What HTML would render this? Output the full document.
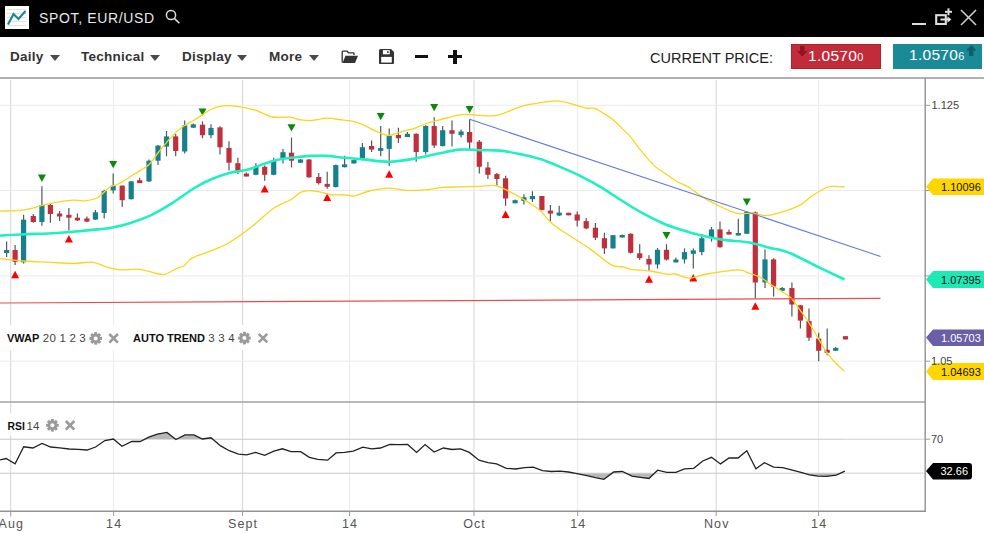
<!DOCTYPE html>
<html><head><meta charset="utf-8">
<style>
*{margin:0;padding:0;box-sizing:border-box}
html,body{width:984px;height:534px;overflow:hidden;background:#fff;font-family:"Liberation Sans",sans-serif}
.abs{position:absolute}
#hdr{position:absolute;left:0;top:0;width:984px;height:37px;background:#000}
#title{position:absolute;left:39px;top:10px;color:#e8e8e8;font-size:14px;letter-spacing:0.65px;white-space:nowrap}
.tb{position:absolute;top:49px;font-size:13.5px;letter-spacing:0.25px;font-weight:bold;color:#333;white-space:nowrap}
.tri{position:absolute;width:0;height:0;border-left:5px solid transparent;border-right:5px solid transparent;border-top:6px solid #4a4a4a}
#tbline{position:absolute;left:0;top:77px;width:984px;height:2px;background:#b0b0b0}
#cp{position:absolute;left:650px;top:50px;font-size:14.5px;color:#222;letter-spacing:0px;white-space:nowrap}
.pbox{position:absolute;top:44px;height:25px;color:#fff;font-size:15.5px;letter-spacing:0.3px;white-space:nowrap}
.ax{position:absolute;font-size:11px;color:#444;white-space:nowrap}
.xl{position:absolute;top:516.8px;width:60px;text-align:center;font-size:12.5px;letter-spacing:1.1px;text-indent:1.1px;color:#555;white-space:nowrap}
.lbl{position:absolute;height:17px;font-size:11.5px;line-height:17px;white-space:nowrap;padding-left:15px}
.ind{position:absolute;background:#fff;white-space:nowrap;font-size:12px;color:#333}
.ind b{color:#111}
.it{position:absolute;white-space:nowrap;font-size:11px;color:#333}
.it b{color:#111}
.it .n{font-size:11.5px;letter-spacing:0.2px;color:#444}
</style></head><body>
<div id="hdr">
  <svg class="abs" style="left:5px;top:6px" width="24" height="23" viewBox="0 0 24 23">
    <rect x="0" y="0" width="24" height="23" fill="#fff"/>
    <g stroke="#e2e2e2" stroke-width="1"><line x1="2" y1="3.5" x2="21" y2="3.5"/><line x1="2" y1="7.5" x2="21" y2="7.5"/><line x1="2" y1="11.5" x2="21" y2="11.5"/><line x1="2" y1="15.5" x2="21" y2="15.5"/><line x1="2" y1="19.5" x2="21" y2="19.5"/></g>
    <polyline points="3,18.5 8.5,8 13.5,13 20.5,5" fill="none" stroke="#1d8a93" stroke-width="2.2"/>
  </svg>
  <div id="title">SPOT, EUR/USD</div>
  <svg class="abs" style="left:165px;top:9.2px" width="17" height="16" viewBox="0 0 17 16">
    <circle cx="6" cy="6" r="4.6" fill="none" stroke="#ddd" stroke-width="1.5"/>
    <line x1="9.4" y1="9.4" x2="14.3" y2="14.3" stroke="#ddd" stroke-width="1.6"/>
  </svg>
  <div class="abs" style="left:912px;top:23px;width:14px;height:2px;background:#ddd"></div>
  <svg class="abs" style="left:934px;top:7.4px" width="20" height="18" viewBox="0 0 20 18">
    <rect x="2.2" y="8.2" width="9.6" height="8.8" fill="none" stroke="#ddd" stroke-width="2.1"/>
    <line x1="6.5" y1="12.5" x2="14.5" y2="12.5" stroke="#ddd" stroke-width="2"/>
    <polygon points="13.5,9.3 17.4,12.5 13.5,15.7" fill="#ddd"/>
    <line x1="14.5" y1="1.3" x2="14.5" y2="8.3" stroke="#ddd" stroke-width="2"/>
    <line x1="11" y1="4.8" x2="18" y2="4.8" stroke="#ddd" stroke-width="2"/>
  </svg>
  <svg class="abs" style="left:960px;top:9px" width="17" height="17" viewBox="0 0 17 17">
    <line x1="1" y1="1" x2="16" y2="16" stroke="#ccc" stroke-width="1.6"/>
    <line x1="16" y1="1" x2="1" y2="16" stroke="#ccc" stroke-width="1.6"/>
  </svg>
</div>

<div class="tb" style="left:10px">Daily</div><div class="tri" style="left:50px;top:55px"></div>
<div class="tb" style="left:81px">Technical</div><div class="tri" style="left:150px;top:55px"></div>
<div class="tb" style="left:182px">Display</div><div class="tri" style="left:237px;top:55px"></div>
<div class="tb" style="left:269px">More</div><div class="tri" style="left:309px;top:55px"></div>
<!-- folder -->
<svg class="abs" style="left:341px;top:49.7px" width="18" height="14" viewBox="0 0 18 14">
  <path d="M1.2,12.5 V2 Q1.2,1.2 2,1.2 H6 L7.5,2.8 H12.5 Q13,2.8 13,3.4 V5" fill="none" stroke="#333" stroke-width="1.3"/>
  <path d="M1.5,13 L4.5,5.8 H17 L14,13 Z" fill="#333"/>
</svg>
<!-- save -->
<svg class="abs" style="left:379px;top:48.6px" width="15" height="15.2" viewBox="0 0 15 15.2">
  <path d="M1.6,0 H12 L15,3 V13.6 Q15,15.2 13.4,15.2 H1.6 Q0,15.2 0,13.6 V1.6 Q0,0 1.6,0 Z" fill="#333"/>
  <rect x="3.9" y="1.1" width="6.9" height="4.2" fill="#fff"/>
  <rect x="8.1" y="2.2" width="1.5" height="1.8" fill="#333"/>
  <rect x="2.2" y="7.9" width="10.6" height="5.7" fill="#fff"/>
</svg>
<div class="abs" style="left:415px;top:55px;width:13px;height:3.4px;background:#111"></div>
<div class="abs" style="left:448px;top:55px;width:14px;height:3.4px;background:#111"></div>
<div class="abs" style="left:453.3px;top:50px;width:3.4px;height:13.5px;background:#111"></div>

<div id="cp">CURRENT PRICE:</div>
<div class="pbox" style="left:791px;width:90px;background:#c22b39;border:1px solid #b2202c">
  <svg class="abs" style="left:5px;top:1px" width="11" height="11" viewBox="0 0 11 11"><path d="M3,0 H7.5 V5 H10.5 L5.25,10.5 L0,5 H3 Z" fill="#8e1420"/></svg>
  <span class="abs" style="left:16px;top:2px">1.0570<span style="font-size:11px">0</span></span>
</div>
<div class="pbox" style="left:893px;width:89px;background:#1a8a96">
  <svg class="abs" style="left:73px;top:1px" width="11" height="11" viewBox="0 0 11 11"><path d="M3,11 H7.5 V5.5 H10.5 L5.25,0 L0,5.5 H3 Z" fill="#0f5f68"/></svg>
  <span class="abs" style="left:16px;top:2px">1.0570<span style="font-size:11px">6</span></span>
</div>
<div id="tbline"></div>

<svg class="abs" style="left:0;top:0" width="984" height="534" viewBox="0 0 984 534">
<g stroke="#ebebeb" stroke-width="1">
<line x1="10.7" y1="80" x2="10.7" y2="511" stroke="#d6d6d6"/>
<line x1="113.6" y1="80" x2="113.6" y2="511" />
<line x1="242.6" y1="80" x2="242.6" y2="511" stroke="#d6d6d6"/>
<line x1="349.5" y1="80" x2="349.5" y2="511" />
<line x1="474.0" y1="80" x2="474.0" y2="511" stroke="#d6d6d6"/>
<line x1="577.7" y1="80" x2="577.7" y2="511" />
<line x1="716.2" y1="80" x2="716.2" y2="511" stroke="#d6d6d6"/>
<line x1="818.6" y1="80" x2="818.6" y2="511" />
<line x1="0" y1="105.3" x2="925" y2="105.3"/>
<line x1="0" y1="190.5" x2="925" y2="190.5"/>
<line x1="0" y1="275.9" x2="925" y2="275.9"/>
<line x1="0" y1="361.2" x2="925" y2="361.2"/>
<line x1="0" y1="439.2" x2="925" y2="439.2" stroke="#cfcfcf"/>
<line x1="0" y1="473.2" x2="925" y2="473.2" stroke="#cfcfcf"/>
</g>
<line x1="6.6" y1="241.5" x2="6.6" y2="257.0" stroke="#4f5a5e" stroke-width="1.2"/>
<rect x="4.0" y="250.0" width="5.2" height="3.0" fill="#17808d"/>
<line x1="15.1" y1="245.0" x2="15.1" y2="265.0" stroke="#4f5a5e" stroke-width="1.2"/>
<rect x="12.5" y="250.0" width="5.2" height="11.8" fill="#c22e3b"/>
<line x1="23.6" y1="214.8" x2="23.6" y2="263.5" stroke="#4f5a5e" stroke-width="1.2"/>
<rect x="21.0" y="219.6" width="5.2" height="42.6" fill="#17808d"/>
<line x1="33.3" y1="214.0" x2="33.3" y2="222.8" stroke="#4f5a5e" stroke-width="1.2"/>
<rect x="30.7" y="216.0" width="5.2" height="6.0" fill="#c22e3b"/>
<line x1="41.9" y1="186.3" x2="41.9" y2="225.7" stroke="#4f5a5e" stroke-width="1.2"/>
<rect x="39.3" y="205.0" width="5.2" height="17.0" fill="#17808d"/>
<line x1="50.4" y1="203.3" x2="50.4" y2="222.8" stroke="#4f5a5e" stroke-width="1.2"/>
<rect x="47.8" y="205.0" width="5.2" height="9.0" fill="#c22e3b"/>
<line x1="59.6" y1="211.0" x2="59.6" y2="221.0" stroke="#4f5a5e" stroke-width="1.2"/>
<rect x="57.0" y="213.5" width="5.2" height="3.0" fill="#c22e3b"/>
<line x1="68.9" y1="208.0" x2="68.9" y2="230.6" stroke="#4f5a5e" stroke-width="1.2"/>
<rect x="66.3" y="214.8" width="5.2" height="2.9" fill="#c22e3b"/>
<line x1="77.4" y1="213.5" x2="77.4" y2="221.0" stroke="#4f5a5e" stroke-width="1.2"/>
<rect x="74.8" y="217.7" width="5.2" height="2.7" fill="#c22e3b"/>
<line x1="86.9" y1="216.5" x2="86.9" y2="222.0" stroke="#4f5a5e" stroke-width="1.2"/>
<rect x="84.3" y="218.4" width="5.2" height="3.2" fill="#c22e3b"/>
<line x1="95.4" y1="210.0" x2="95.4" y2="220.0" stroke="#4f5a5e" stroke-width="1.2"/>
<rect x="92.8" y="212.3" width="5.2" height="7.3" fill="#17808d"/>
<line x1="104.2" y1="189.7" x2="104.2" y2="218.4" stroke="#4f5a5e" stroke-width="1.2"/>
<rect x="101.6" y="191.0" width="5.2" height="22.0" fill="#17808d"/>
<line x1="113.2" y1="173.4" x2="113.2" y2="193.6" stroke="#4f5a5e" stroke-width="1.2"/>
<rect x="110.6" y="185.6" width="5.2" height="4.8" fill="#17808d"/>
<line x1="122.2" y1="185.6" x2="122.2" y2="207.0" stroke="#4f5a5e" stroke-width="1.2"/>
<rect x="119.6" y="185.6" width="5.2" height="14.6" fill="#c22e3b"/>
<line x1="131.2" y1="181.0" x2="131.2" y2="199.5" stroke="#4f5a5e" stroke-width="1.2"/>
<rect x="128.6" y="181.4" width="5.2" height="17.8" fill="#17808d"/>
<line x1="139.7" y1="177.8" x2="139.7" y2="183.1" stroke="#4f5a5e" stroke-width="1.2"/>
<rect x="137.1" y="180.2" width="5.2" height="2.9" fill="#c22e3b"/>
<line x1="149.0" y1="159.5" x2="149.0" y2="182.0" stroke="#4f5a5e" stroke-width="1.2"/>
<rect x="146.4" y="160.7" width="5.2" height="20.7" fill="#17808d"/>
<line x1="158.0" y1="144.9" x2="158.0" y2="165.1" stroke="#4f5a5e" stroke-width="1.2"/>
<rect x="155.4" y="145.6" width="5.2" height="15.1" fill="#17808d"/>
<line x1="166.5" y1="131.0" x2="166.5" y2="156.3" stroke="#4f5a5e" stroke-width="1.2"/>
<rect x="163.9" y="136.4" width="5.2" height="10.2" fill="#17808d"/>
<line x1="175.7" y1="134.0" x2="175.7" y2="156.3" stroke="#4f5a5e" stroke-width="1.2"/>
<rect x="173.1" y="136.4" width="5.2" height="14.6" fill="#c22e3b"/>
<line x1="184.7" y1="120.6" x2="184.7" y2="153.4" stroke="#4f5a5e" stroke-width="1.2"/>
<rect x="182.1" y="125.4" width="5.2" height="26.1" fill="#17808d"/>
<line x1="193.3" y1="123.5" x2="193.3" y2="127.7" stroke="#4f5a5e" stroke-width="1.2"/>
<rect x="190.7" y="124.3" width="5.2" height="3.4" fill="#17808d"/>
<line x1="202.5" y1="121.3" x2="202.5" y2="138.3" stroke="#4f5a5e" stroke-width="1.2"/>
<rect x="199.9" y="124.7" width="5.2" height="10.5" fill="#c22e3b"/>
<line x1="211.0" y1="124.2" x2="211.0" y2="138.3" stroke="#4f5a5e" stroke-width="1.2"/>
<rect x="208.4" y="127.9" width="5.2" height="7.3" fill="#17808d"/>
<line x1="220.0" y1="126.2" x2="220.0" y2="154.6" stroke="#4f5a5e" stroke-width="1.2"/>
<rect x="217.4" y="127.4" width="5.2" height="19.9" fill="#c22e3b"/>
<line x1="229.0" y1="141.3" x2="229.0" y2="170.5" stroke="#4f5a5e" stroke-width="1.2"/>
<rect x="226.4" y="148.0" width="5.2" height="14.7" fill="#c22e3b"/>
<line x1="237.9" y1="157.8" x2="237.9" y2="174.1" stroke="#4f5a5e" stroke-width="1.2"/>
<rect x="235.3" y="163.2" width="5.2" height="7.8" fill="#c22e3b"/>
<line x1="246.4" y1="172.5" x2="246.4" y2="176.5" stroke="#4f5a5e" stroke-width="1.2"/>
<rect x="243.8" y="173.6" width="5.2" height="2.9" fill="#c22e3b"/>
<line x1="255.9" y1="163.2" x2="255.9" y2="175.3" stroke="#4f5a5e" stroke-width="1.2"/>
<rect x="253.3" y="166.8" width="5.2" height="8.0" fill="#17808d"/>
<line x1="264.7" y1="165.6" x2="264.7" y2="180.7" stroke="#4f5a5e" stroke-width="1.2"/>
<rect x="262.1" y="166.8" width="5.2" height="8.0" fill="#c22e3b"/>
<line x1="273.7" y1="157.8" x2="273.7" y2="175.3" stroke="#4f5a5e" stroke-width="1.2"/>
<rect x="271.1" y="160.7" width="5.2" height="14.1" fill="#17808d"/>
<line x1="283.0" y1="149.0" x2="283.0" y2="163.6" stroke="#4f5a5e" stroke-width="1.2"/>
<rect x="280.4" y="152.2" width="5.2" height="6.6" fill="#17808d"/>
<line x1="291.5" y1="137.6" x2="291.5" y2="167.5" stroke="#4f5a5e" stroke-width="1.2"/>
<rect x="288.9" y="152.7" width="5.2" height="8.0" fill="#c22e3b"/>
<line x1="300.5" y1="159.0" x2="300.5" y2="163.0" stroke="#4f5a5e" stroke-width="1.2"/>
<rect x="297.9" y="159.5" width="5.2" height="3.2" fill="#17808d"/>
<line x1="309.0" y1="159.0" x2="309.0" y2="177.8" stroke="#4f5a5e" stroke-width="1.2"/>
<rect x="306.4" y="159.5" width="5.2" height="17.8" fill="#c22e3b"/>
<line x1="318.7" y1="172.9" x2="318.7" y2="184.6" stroke="#4f5a5e" stroke-width="1.2"/>
<rect x="316.1" y="177.0" width="5.2" height="6.1" fill="#c22e3b"/>
<line x1="327.2" y1="171.7" x2="327.2" y2="188.7" stroke="#4f5a5e" stroke-width="1.2"/>
<rect x="324.6" y="183.9" width="5.2" height="2.9" fill="#c22e3b"/>
<line x1="335.8" y1="164.4" x2="335.8" y2="187.5" stroke="#4f5a5e" stroke-width="1.2"/>
<rect x="333.2" y="165.1" width="5.2" height="21.9" fill="#17808d"/>
<line x1="344.6" y1="155.7" x2="344.6" y2="167.4" stroke="#4f5a5e" stroke-width="1.2"/>
<rect x="342.0" y="164.3" width="5.2" height="2.9" fill="#17808d"/>
<line x1="353.9" y1="159.5" x2="353.9" y2="163.5" stroke="#4f5a5e" stroke-width="1.2"/>
<rect x="351.3" y="160.1" width="5.2" height="3.4" fill="#17808d"/>
<line x1="362.4" y1="143.0" x2="362.4" y2="160.6" stroke="#4f5a5e" stroke-width="1.2"/>
<rect x="359.8" y="147.2" width="5.2" height="11.4" fill="#17808d"/>
<line x1="371.6" y1="140.6" x2="371.6" y2="152.0" stroke="#4f5a5e" stroke-width="1.2"/>
<rect x="369.0" y="146.0" width="5.2" height="3.6" fill="#c22e3b"/>
<line x1="380.7" y1="126.0" x2="380.7" y2="156.2" stroke="#4f5a5e" stroke-width="1.2"/>
<rect x="378.1" y="148.0" width="5.2" height="2.9" fill="#17808d"/>
<line x1="389.2" y1="128.5" x2="389.2" y2="166.0" stroke="#4f5a5e" stroke-width="1.2"/>
<rect x="386.6" y="135.8" width="5.2" height="13.1" fill="#17808d"/>
<line x1="398.4" y1="127.7" x2="398.4" y2="143.0" stroke="#4f5a5e" stroke-width="1.2"/>
<rect x="395.8" y="135.0" width="5.2" height="3.2" fill="#c22e3b"/>
<line x1="407.4" y1="131.9" x2="407.4" y2="137.0" stroke="#4f5a5e" stroke-width="1.2"/>
<rect x="404.8" y="133.8" width="5.2" height="3.2" fill="#17808d"/>
<line x1="416.2" y1="133.3" x2="416.2" y2="161.8" stroke="#4f5a5e" stroke-width="1.2"/>
<rect x="413.6" y="133.8" width="5.2" height="18.2" fill="#c22e3b"/>
<line x1="425.7" y1="125.3" x2="425.7" y2="154.5" stroke="#4f5a5e" stroke-width="1.2"/>
<rect x="423.1" y="126.0" width="5.2" height="26.0" fill="#17808d"/>
<line x1="434.2" y1="117.3" x2="434.2" y2="148.0" stroke="#4f5a5e" stroke-width="1.2"/>
<rect x="431.6" y="126.0" width="5.2" height="19.5" fill="#c22e3b"/>
<line x1="442.7" y1="126.0" x2="442.7" y2="146.5" stroke="#4f5a5e" stroke-width="1.2"/>
<rect x="440.1" y="130.2" width="5.2" height="15.8" fill="#17808d"/>
<line x1="452.0" y1="120.4" x2="452.0" y2="146.5" stroke="#4f5a5e" stroke-width="1.2"/>
<rect x="449.4" y="130.2" width="5.2" height="3.6" fill="#c22e3b"/>
<line x1="461.1" y1="129.5" x2="461.1" y2="137.6" stroke="#4f5a5e" stroke-width="1.2"/>
<rect x="458.5" y="131.5" width="5.2" height="3.7" fill="#17808d"/>
<line x1="469.6" y1="119.3" x2="469.6" y2="149.0" stroke="#4f5a5e" stroke-width="1.2"/>
<rect x="467.0" y="132.0" width="5.2" height="10.5" fill="#c22e3b"/>
<line x1="479.3" y1="140.0" x2="479.3" y2="173.4" stroke="#4f5a5e" stroke-width="1.2"/>
<rect x="476.7" y="141.7" width="5.2" height="25.1" fill="#c22e3b"/>
<line x1="487.9" y1="162.0" x2="487.9" y2="179.0" stroke="#4f5a5e" stroke-width="1.2"/>
<rect x="485.3" y="167.5" width="5.2" height="7.3" fill="#c22e3b"/>
<line x1="496.9" y1="172.9" x2="496.9" y2="185.6" stroke="#4f5a5e" stroke-width="1.2"/>
<rect x="494.3" y="174.1" width="5.2" height="4.9" fill="#c22e3b"/>
<line x1="505.6" y1="175.8" x2="505.6" y2="205.8" stroke="#4f5a5e" stroke-width="1.2"/>
<rect x="503.0" y="178.3" width="5.2" height="20.2" fill="#c22e3b"/>
<line x1="515.1" y1="199.5" x2="515.1" y2="203.3" stroke="#4f5a5e" stroke-width="1.2"/>
<rect x="512.5" y="200.2" width="5.2" height="3.1" fill="#17808d"/>
<line x1="523.9" y1="194.3" x2="523.9" y2="204.5" stroke="#4f5a5e" stroke-width="1.2"/>
<rect x="521.3" y="197.2" width="5.2" height="3.7" fill="#17808d"/>
<line x1="532.4" y1="191.2" x2="532.4" y2="202.1" stroke="#4f5a5e" stroke-width="1.2"/>
<rect x="529.8" y="196.0" width="5.2" height="3.2" fill="#17808d"/>
<line x1="541.9" y1="196.0" x2="541.9" y2="210.6" stroke="#4f5a5e" stroke-width="1.2"/>
<rect x="539.3" y="196.0" width="5.2" height="13.9" fill="#c22e3b"/>
<line x1="550.4" y1="205.0" x2="550.4" y2="221.6" stroke="#4f5a5e" stroke-width="1.2"/>
<rect x="547.8" y="210.6" width="5.2" height="3.0" fill="#c22e3b"/>
<line x1="559.2" y1="205.8" x2="559.2" y2="216.0" stroke="#4f5a5e" stroke-width="1.2"/>
<rect x="556.6" y="212.6" width="5.2" height="2.9" fill="#17808d"/>
<line x1="568.7" y1="212.8" x2="568.7" y2="215.2" stroke="#4f5a5e" stroke-width="1.2"/>
<rect x="566.1" y="212.8" width="5.2" height="2.5" fill="#c22e3b"/>
<line x1="577.2" y1="211.4" x2="577.2" y2="226.5" stroke="#4f5a5e" stroke-width="1.2"/>
<rect x="574.6" y="214.5" width="5.2" height="6.1" fill="#c22e3b"/>
<line x1="586.2" y1="218.0" x2="586.2" y2="229.2" stroke="#4f5a5e" stroke-width="1.2"/>
<rect x="583.6" y="221.1" width="5.2" height="7.3" fill="#c22e3b"/>
<line x1="595.4" y1="223.0" x2="595.4" y2="239.9" stroke="#4f5a5e" stroke-width="1.2"/>
<rect x="592.8" y="227.7" width="5.2" height="10.0" fill="#c22e3b"/>
<line x1="604.4" y1="232.8" x2="604.4" y2="254.0" stroke="#4f5a5e" stroke-width="1.2"/>
<rect x="601.8" y="238.2" width="5.2" height="10.2" fill="#c22e3b"/>
<line x1="613.0" y1="235.0" x2="613.0" y2="248.6" stroke="#4f5a5e" stroke-width="1.2"/>
<rect x="610.4" y="235.2" width="5.2" height="13.2" fill="#17808d"/>
<line x1="622.2" y1="234.5" x2="622.2" y2="237.4" stroke="#4f5a5e" stroke-width="1.2"/>
<rect x="619.6" y="235.0" width="5.2" height="2.5" fill="#17808d"/>
<line x1="630.7" y1="233.3" x2="630.7" y2="253.5" stroke="#4f5a5e" stroke-width="1.2"/>
<rect x="628.1" y="233.8" width="5.2" height="19.0" fill="#c22e3b"/>
<line x1="639.7" y1="244.2" x2="639.7" y2="260.1" stroke="#4f5a5e" stroke-width="1.2"/>
<rect x="637.1" y="253.3" width="5.2" height="4.8" fill="#c22e3b"/>
<line x1="649.0" y1="255.2" x2="649.0" y2="271.0" stroke="#4f5a5e" stroke-width="1.2"/>
<rect x="646.4" y="258.9" width="5.2" height="5.6" fill="#c22e3b"/>
<line x1="657.5" y1="247.9" x2="657.5" y2="268.6" stroke="#4f5a5e" stroke-width="1.2"/>
<rect x="654.9" y="249.8" width="5.2" height="14.7" fill="#17808d"/>
<line x1="666.5" y1="244.2" x2="666.5" y2="260.6" stroke="#4f5a5e" stroke-width="1.2"/>
<rect x="663.9" y="249.8" width="5.2" height="9.8" fill="#c22e3b"/>
<line x1="675.9" y1="257.5" x2="675.9" y2="262.5" stroke="#4f5a5e" stroke-width="1.2"/>
<rect x="673.3" y="259.5" width="5.2" height="2.9" fill="#17808d"/>
<line x1="684.5" y1="248.4" x2="684.5" y2="263.5" stroke="#4f5a5e" stroke-width="1.2"/>
<rect x="681.9" y="252.1" width="5.2" height="7.3" fill="#17808d"/>
<line x1="693.3" y1="248.4" x2="693.3" y2="268.4" stroke="#4f5a5e" stroke-width="1.2"/>
<rect x="690.7" y="250.4" width="5.2" height="3.4" fill="#17808d"/>
<line x1="701.8" y1="233.8" x2="701.8" y2="255.2" stroke="#4f5a5e" stroke-width="1.2"/>
<rect x="699.2" y="238.2" width="5.2" height="13.9" fill="#17808d"/>
<line x1="711.5" y1="227.0" x2="711.5" y2="241.6" stroke="#4f5a5e" stroke-width="1.2"/>
<rect x="708.9" y="229.4" width="5.2" height="8.1" fill="#17808d"/>
<line x1="720.0" y1="221.6" x2="720.0" y2="247.7" stroke="#4f5a5e" stroke-width="1.2"/>
<rect x="717.4" y="229.4" width="5.2" height="17.8" fill="#c22e3b"/>
<line x1="729.0" y1="229.5" x2="729.0" y2="234.5" stroke="#4f5a5e" stroke-width="1.2"/>
<rect x="726.4" y="231.9" width="5.2" height="2.6" fill="#c22e3b"/>
<line x1="738.3" y1="218.7" x2="738.3" y2="235.5" stroke="#4f5a5e" stroke-width="1.2"/>
<rect x="735.7" y="233.0" width="5.2" height="2.5" fill="#17808d"/>
<line x1="746.8" y1="211.4" x2="746.8" y2="233.8" stroke="#4f5a5e" stroke-width="1.2"/>
<rect x="744.2" y="211.9" width="5.2" height="21.9" fill="#17808d"/>
<line x1="755.3" y1="211.4" x2="755.3" y2="298.3" stroke="#4f5a5e" stroke-width="1.2"/>
<rect x="752.7" y="212.4" width="5.2" height="70.1" fill="#c22e3b"/>
<line x1="765.0" y1="249.6" x2="765.0" y2="287.9" stroke="#4f5a5e" stroke-width="1.2"/>
<rect x="762.4" y="259.4" width="5.2" height="23.1" fill="#17808d"/>
<line x1="773.6" y1="258.2" x2="773.6" y2="296.5" stroke="#4f5a5e" stroke-width="1.2"/>
<rect x="771.0" y="259.4" width="5.2" height="27.2" fill="#c22e3b"/>
<line x1="782.2" y1="287.0" x2="782.2" y2="290.8" stroke="#4f5a5e" stroke-width="1.2"/>
<rect x="779.6" y="288.0" width="5.2" height="2.8" fill="#17808d"/>
<line x1="791.9" y1="282.6" x2="791.9" y2="316.4" stroke="#4f5a5e" stroke-width="1.2"/>
<rect x="789.3" y="288.1" width="5.2" height="16.4" fill="#c22e3b"/>
<line x1="800.4" y1="305.0" x2="800.4" y2="328.4" stroke="#4f5a5e" stroke-width="1.2"/>
<rect x="797.8" y="305.3" width="5.2" height="15.3" fill="#c22e3b"/>
<line x1="809.0" y1="308.5" x2="809.0" y2="341.1" stroke="#4f5a5e" stroke-width="1.2"/>
<rect x="806.4" y="321.1" width="5.2" height="16.6" fill="#c22e3b"/>
<line x1="818.7" y1="332.8" x2="818.7" y2="361.3" stroke="#4f5a5e" stroke-width="1.2"/>
<rect x="816.1" y="338.6" width="5.2" height="12.2" fill="#c22e3b"/>
<line x1="827.2" y1="328.4" x2="827.2" y2="355.2" stroke="#4f5a5e" stroke-width="1.2"/>
<rect x="824.6" y="349.8" width="5.2" height="3.0" fill="#c22e3b"/>
<line x1="835.7" y1="347.0" x2="835.7" y2="350.8" stroke="#4f5a5e" stroke-width="1.2"/>
<rect x="833.1" y="347.9" width="5.2" height="2.9" fill="#17808d"/>
<line x1="845.5" y1="336.2" x2="845.5" y2="339.4" stroke="#4f5a5e" stroke-width="1.2"/>
<rect x="842.9" y="336.2" width="5.2" height="3.2" fill="#c22e3b"/>
<polygon points="37.9,174.6 45.9,174.6 41.9,181.9" fill="#0a8a0a"/>
<polygon points="109.2,161.0 117.2,161.0 113.2,168.3" fill="#0a8a0a"/>
<polygon points="198.5,108.4 206.5,108.4 202.5,115.7" fill="#0a8a0a"/>
<polygon points="287.5,124.2 295.5,124.2 291.5,131.5" fill="#0a8a0a"/>
<polygon points="376.7,113.0 384.7,113.0 380.7,120.3" fill="#0a8a0a"/>
<polygon points="430.2,104.0 438.2,104.0 434.2,111.3" fill="#0a8a0a"/>
<polygon points="465.6,106.0 473.6,106.0 469.6,113.3" fill="#0a8a0a"/>
<polygon points="662.5,232.0 670.5,232.0 666.5,239.3" fill="#0a8a0a"/>
<polygon points="742.8,198.5 750.8,198.5 746.8,205.8" fill="#0a8a0a"/>
<polygon points="11.1,278.3 19.1,278.3 15.1,270.8" fill="#ff0000"/>
<polygon points="64.9,242.5 72.9,242.5 68.9,235.0" fill="#ff0000"/>
<polygon points="260.7,192.5 268.7,192.5 264.7,185.0" fill="#ff0000"/>
<polygon points="323.2,201.1 331.2,201.1 327.2,193.6" fill="#ff0000"/>
<polygon points="385.2,177.8 393.2,177.8 389.2,170.3" fill="#ff0000"/>
<polygon points="501.6,218.1 509.6,218.1 505.6,210.6" fill="#ff0000"/>
<polygon points="645.0,282.7 653.0,282.7 649.0,275.2" fill="#ff0000"/>
<polygon points="689.3,281.5 697.3,281.5 693.3,274.0" fill="#ff0000"/>
<polygon points="751.3,309.8 759.3,309.8 755.3,302.3" fill="#ff0000"/>
<path fill="none" stroke="#fad51a" stroke-width="1.3" d="M0.0,211.1 C4.0,210.9 16.2,211.1 24.3,209.9 C32.4,208.7 40.6,205.4 48.7,203.8 C56.8,202.2 66.9,200.7 73.0,200.2 C79.1,199.7 81.1,201.3 85.2,200.9 C89.3,200.5 93.8,199.6 97.4,197.7 C101.1,195.8 105.0,191.0 107.1,189.2 C109.2,187.4 107.8,188.0 110.0,187.0 C112.2,186.0 116.0,185.3 120.0,183.1 C124.0,180.9 129.5,177.1 134.3,174.0 C139.1,170.9 144.9,168.1 149.0,164.4 C153.1,160.7 155.0,156.5 158.7,152.0 C162.3,147.5 166.8,141.8 170.9,137.6 C175.0,133.4 179.1,129.5 183.0,126.6 C186.9,123.7 191.1,122.0 194.4,120.0 C197.7,118.0 200.1,116.3 202.9,114.5 C205.8,112.7 208.8,110.3 211.5,109.0 C214.2,107.7 216.0,107.1 218.8,106.6 C221.6,106.0 225.2,105.7 228.5,105.7 C231.8,105.7 233.8,105.8 238.3,106.6 C242.8,107.3 249.7,108.5 255.4,110.2 C261.1,111.9 266.6,115.8 272.4,117.0 C278.2,118.2 285.7,116.8 290.0,117.2 C294.3,117.6 294.6,118.7 298.0,119.3 C301.4,119.9 305.3,120.8 310.2,120.6 C315.1,120.4 322.2,118.2 327.2,118.1 C332.2,117.9 335.8,119.2 340.0,119.7 C344.2,120.2 348.1,120.3 352.2,121.2 C356.2,122.1 360.2,123.6 364.3,125.3 C368.4,127.0 372.4,129.7 376.5,131.4 C380.6,133.1 384.6,135.4 388.7,135.5 C392.8,135.6 396.8,133.0 400.9,131.9 C404.9,130.8 408.9,130.2 413.0,128.9 C417.1,127.6 421.1,125.4 425.2,124.0 C429.3,122.6 433.3,121.5 437.4,120.4 C441.4,119.3 445.9,118.2 449.5,117.3 C453.1,116.4 455.9,115.3 459.3,114.8 C462.7,114.3 463.6,114.3 469.6,114.5 C475.6,114.7 487.5,116.7 495.2,115.7 C502.9,114.7 510.4,110.2 515.9,108.4 C521.4,106.6 521.9,105.9 528.0,104.7 C534.1,103.5 547.1,101.7 552.4,101.1 C557.7,100.5 557.4,101.0 560.0,101.3 C562.6,101.6 565.5,102.1 568.2,102.8 C571.0,103.5 573.6,104.5 576.5,105.4 C579.4,106.3 582.6,107.6 585.7,108.1 C588.8,108.6 592.1,107.7 595.0,108.5 C597.9,109.3 600.3,111.3 603.2,113.1 C606.1,114.9 609.4,116.7 612.5,119.2 C615.6,121.7 618.7,125.1 621.8,128.1 C624.9,131.1 628.1,134.0 631.0,137.4 C633.9,140.8 636.4,145.0 639.3,148.7 C642.2,152.4 645.6,156.4 648.5,159.6 C651.4,162.8 653.7,165.3 656.8,167.8 C659.9,170.3 663.9,172.6 667.1,174.8 C670.4,177.0 672.5,179.0 676.3,181.2 C680.1,183.4 685.8,185.4 689.7,187.8 C693.7,190.2 696.0,192.8 700.0,195.4 C704.0,198.0 708.0,200.5 714.0,203.4 C720.0,206.3 729.4,211.5 735.9,213.1 C742.4,214.7 748.0,212.7 752.9,213.1 C757.8,213.5 760.5,215.7 765.0,215.6 C769.5,215.5 774.2,214.3 780.0,212.6 C785.8,210.9 794.2,208.0 799.5,205.3 C804.8,202.6 807.1,199.3 811.6,196.3 C816.1,193.3 822.2,189.2 826.3,187.5 C830.4,185.8 833.0,186.4 836.0,186.3 C839.0,186.2 843.1,186.9 844.5,187.0"/>
<path fill="none" stroke="#fad51a" stroke-width="1.3" d="M0.0,258.6 C4.0,259.0 16.2,260.4 24.3,261.0 C32.4,261.6 40.6,261.8 48.7,262.2 C56.8,262.6 65.7,263.5 73.0,263.5 C80.3,263.5 86.8,261.6 92.5,262.2 C98.2,262.8 102.5,265.8 107.1,267.1 C111.7,268.4 115.0,269.5 120.3,269.9 C125.6,270.3 132.3,268.6 138.8,269.3 C145.3,270.0 154.9,273.2 159.4,274.0 C163.9,274.8 162.5,275.0 165.6,274.0 C168.7,273.0 174.9,269.2 178.0,267.8 C181.1,266.4 181.7,267.5 184.1,265.8 C186.5,264.1 187.6,260.5 192.4,257.9 C197.2,255.3 206.8,252.7 213.0,250.1 C219.2,247.5 223.2,246.2 229.4,242.5 C235.6,238.8 242.6,233.8 250.0,228.1 C257.4,222.4 266.9,212.9 273.7,208.2 C280.5,203.5 286.2,202.3 290.7,199.7 C295.2,197.1 297.2,193.9 300.5,192.4 C303.8,190.9 306.6,190.7 310.2,190.7 C313.8,190.7 318.8,191.7 322.4,192.4 C326.0,193.1 328.5,194.4 332.1,194.8 C335.8,195.2 340.6,194.6 344.3,194.8 C348.1,195.0 350.5,196.5 354.6,195.9 C358.8,195.3 363.5,192.3 369.2,191.0 C374.9,189.7 382.6,188.2 388.7,188.1 C394.8,188.0 399.6,190.0 405.7,190.3 C411.8,190.6 419.1,190.3 425.2,189.8 C431.3,189.3 436.5,187.9 442.2,187.4 C447.9,186.9 453.1,187.1 459.3,186.9 C465.5,186.7 473.3,186.5 479.3,186.3 C485.3,186.1 490.3,184.8 495.2,185.6 C500.1,186.4 503.1,188.4 508.6,191.2 C514.1,193.9 522.7,198.9 528.0,202.1 C533.3,205.3 536.3,207.1 540.2,210.6 C544.1,214.1 547.1,219.1 551.2,222.8 C555.3,226.5 558.6,228.5 565.0,232.8 C571.4,237.1 581.6,243.1 589.3,248.4 C597.0,253.8 605.6,261.8 611.3,264.9 C617.0,268.0 620.2,266.2 623.4,266.9 C626.6,267.6 626.2,268.6 630.7,269.3 C635.2,270.0 644.1,270.2 650.2,271.0 C656.3,271.8 663.1,273.7 667.2,274.2 C671.3,274.7 671.3,273.4 675.0,274.0 C678.7,274.6 684.3,278.1 689.6,278.1 C694.9,278.1 698.5,275.4 706.6,274.0 C714.7,272.6 731.4,270.0 738.3,269.8 C745.2,269.6 744.4,271.6 748.0,272.8 C751.6,274.0 755.9,275.1 760.0,277.2 C764.1,279.3 769.0,283.3 772.4,285.5 C775.8,287.7 777.5,288.6 780.6,290.6 C783.7,292.7 788.1,295.2 790.9,297.8 C793.6,300.4 794.7,302.7 797.1,306.0 C799.5,309.3 802.3,312.8 805.4,317.4 C808.5,322.0 812.3,328.2 815.7,333.9 C819.1,339.6 822.6,346.4 826.0,351.4 C829.4,356.4 833.2,360.5 836.3,363.8 C839.4,367.1 843.1,369.8 844.5,371.0"/>
<path fill="none" stroke="#1ff0c2" stroke-width="2.6" d="M0.0,235.5 C4.0,235.3 16.2,234.5 24.3,234.2 C32.4,233.9 40.6,233.9 48.7,233.5 C56.8,233.1 64.9,232.5 73.0,231.8 C81.1,231.1 91.2,230.0 97.4,229.4 C103.6,228.8 104.5,229.2 110.0,228.1 C115.5,227.0 123.7,225.1 130.6,222.9 C137.5,220.7 144.3,218.3 151.2,215.1 C158.1,211.8 164.5,208.0 171.8,203.4 C179.1,198.8 188.5,191.6 195.2,187.5 C201.9,183.4 206.3,181.4 212.0,179.0 C217.7,176.6 223.1,174.6 229.3,173.0 C235.5,171.4 241.9,171.2 249.3,169.2 C256.7,167.1 265.6,162.7 273.7,160.7 C281.8,158.7 291.9,157.8 298.0,157.0 C304.1,156.2 305.3,156.1 310.2,155.9 C315.1,155.7 321.5,155.6 327.2,155.9 C332.9,156.2 338.1,157.2 344.3,157.8 C350.5,158.4 356.9,158.7 364.3,159.4 C371.7,160.1 380.6,161.9 388.7,161.8 C396.8,161.7 404.9,160.2 413.0,158.9 C421.1,157.6 429.7,155.4 437.4,153.8 C445.1,152.2 452.2,150.2 459.3,149.6 C466.4,149.0 473.2,150.0 480.0,150.2 C486.8,150.4 493.5,149.9 500.3,150.6 C507.1,151.3 513.8,152.8 520.6,154.2 C527.4,155.6 534.2,157.1 541.0,159.3 C547.8,161.5 554.5,164.5 561.3,167.4 C568.1,170.3 574.8,173.2 581.6,176.6 C588.4,180.0 595.2,183.7 602.0,187.8 C608.8,191.9 615.5,196.8 622.3,201.0 C629.1,205.2 635.8,209.5 642.6,213.2 C649.4,216.9 656.7,220.6 662.9,223.3 C669.1,226.0 673.9,227.5 680.0,229.4 C686.1,231.3 692.0,233.2 699.3,235.0 C706.6,236.8 715.6,238.7 723.7,239.9 C731.8,241.1 739.9,240.9 748.0,242.3 C756.1,243.7 767.1,247.2 772.4,248.4 C777.7,249.7 776.7,248.9 780.0,249.8 C783.3,250.7 785.7,251.1 792.2,254.0 C798.7,256.9 810.3,263.1 819.0,267.4 C827.7,271.6 840.2,277.5 844.5,279.5"/>
<line x1="0" y1="303" x2="880.5" y2="298.3" stroke="#ef4a4a" stroke-width="1.2"/>
<line x1="469.6" y1="119.3" x2="880.5" y2="256.4" stroke="#5a78d8" stroke-width="1.1"/>
<defs><clipPath id="c70"><rect x="0" y="400" width="925" height="39.2"/></clipPath><clipPath id="c30"><rect x="0" y="473.2" width="925" height="40"/></clipPath></defs>
<polygon clip-path="url(#c70)" fill="#b8b8b8" points="0.0,459.8 6.1,458.5 15.1,463.9 23.7,446.8 32.9,448.0 42.0,443.4 50.7,447.0 59.8,447.8 69.0,449.0 78.0,449.3 87.1,450.0 95.6,447.0 104.9,440.5 113.4,439.0 122.0,446.3 131.7,441.5 140.2,441.5 148.8,437.1 157.3,434.1 167.0,432.4 176.0,439.5 184.9,434.9 193.9,434.9 202.4,439.0 211.0,437.8 220.7,445.9 229.3,450.7 238.5,454.1 246.6,454.9 255.6,452.4 264.6,455.4 273.9,451.2 282.4,448.8 291.0,451.7 300.7,451.7 309.3,457.3 317.8,459.3 327.6,460.2 336.1,452.9 344.6,452.4 353.2,451.2 362.9,447.1 371.5,448.8 380.5,448.0 389.8,444.4 398.3,444.6 407.6,444.4 416.6,452.4 425.1,444.6 434.1,452.0 443.4,448.0 452.0,449.5 460.5,448.8 469.3,452.4 479.0,460.2 488.0,462.7 496.6,463.9 506.3,468.3 515.6,469.0 524.6,467.6 533.2,467.1 542.4,470.7 551.5,471.5 560.0,471.2 568.5,472.0 577.0,473.7 586.8,475.6 595.4,477.6 603.9,479.3 613.7,472.0 622.2,471.5 632.0,476.1 640.5,477.3 649.0,478.5 657.6,470.2 666.8,472.4 675.9,472.4 684.4,468.8 693.7,468.3 702.7,461.0 711.5,457.3 720.5,463.9 729.0,458.0 738.0,458.0 746.8,450.7 755.9,468.8 764.4,462.7 773.7,467.1 782.7,467.6 792.4,470.2 801.0,472.4 809.5,474.9 818.0,476.1 826.6,476.3 836.3,475.1 844.9,471.2 844.9,439.2 0,439.2"/>
<polygon clip-path="url(#c30)" fill="#b8b8b8" points="0.0,459.8 6.1,458.5 15.1,463.9 23.7,446.8 32.9,448.0 42.0,443.4 50.7,447.0 59.8,447.8 69.0,449.0 78.0,449.3 87.1,450.0 95.6,447.0 104.9,440.5 113.4,439.0 122.0,446.3 131.7,441.5 140.2,441.5 148.8,437.1 157.3,434.1 167.0,432.4 176.0,439.5 184.9,434.9 193.9,434.9 202.4,439.0 211.0,437.8 220.7,445.9 229.3,450.7 238.5,454.1 246.6,454.9 255.6,452.4 264.6,455.4 273.9,451.2 282.4,448.8 291.0,451.7 300.7,451.7 309.3,457.3 317.8,459.3 327.6,460.2 336.1,452.9 344.6,452.4 353.2,451.2 362.9,447.1 371.5,448.8 380.5,448.0 389.8,444.4 398.3,444.6 407.6,444.4 416.6,452.4 425.1,444.6 434.1,452.0 443.4,448.0 452.0,449.5 460.5,448.8 469.3,452.4 479.0,460.2 488.0,462.7 496.6,463.9 506.3,468.3 515.6,469.0 524.6,467.6 533.2,467.1 542.4,470.7 551.5,471.5 560.0,471.2 568.5,472.0 577.0,473.7 586.8,475.6 595.4,477.6 603.9,479.3 613.7,472.0 622.2,471.5 632.0,476.1 640.5,477.3 649.0,478.5 657.6,470.2 666.8,472.4 675.9,472.4 684.4,468.8 693.7,468.3 702.7,461.0 711.5,457.3 720.5,463.9 729.0,458.0 738.0,458.0 746.8,450.7 755.9,468.8 764.4,462.7 773.7,467.1 782.7,467.6 792.4,470.2 801.0,472.4 809.5,474.9 818.0,476.1 826.6,476.3 836.3,475.1 844.9,471.2 844.9,473.2 0,473.2"/>
<polyline fill="none" stroke="#222" stroke-width="1.3" points="0.0,459.8 6.1,458.5 15.1,463.9 23.7,446.8 32.9,448.0 42.0,443.4 50.7,447.0 59.8,447.8 69.0,449.0 78.0,449.3 87.1,450.0 95.6,447.0 104.9,440.5 113.4,439.0 122.0,446.3 131.7,441.5 140.2,441.5 148.8,437.1 157.3,434.1 167.0,432.4 176.0,439.5 184.9,434.9 193.9,434.9 202.4,439.0 211.0,437.8 220.7,445.9 229.3,450.7 238.5,454.1 246.6,454.9 255.6,452.4 264.6,455.4 273.9,451.2 282.4,448.8 291.0,451.7 300.7,451.7 309.3,457.3 317.8,459.3 327.6,460.2 336.1,452.9 344.6,452.4 353.2,451.2 362.9,447.1 371.5,448.8 380.5,448.0 389.8,444.4 398.3,444.6 407.6,444.4 416.6,452.4 425.1,444.6 434.1,452.0 443.4,448.0 452.0,449.5 460.5,448.8 469.3,452.4 479.0,460.2 488.0,462.7 496.6,463.9 506.3,468.3 515.6,469.0 524.6,467.6 533.2,467.1 542.4,470.7 551.5,471.5 560.0,471.2 568.5,472.0 577.0,473.7 586.8,475.6 595.4,477.6 603.9,479.3 613.7,472.0 622.2,471.5 632.0,476.1 640.5,477.3 649.0,478.5 657.6,470.2 666.8,472.4 675.9,472.4 684.4,468.8 693.7,468.3 702.7,461.0 711.5,457.3 720.5,463.9 729.0,458.0 738.0,458.0 746.8,450.7 755.9,468.8 764.4,462.7 773.7,467.1 782.7,467.6 792.4,470.2 801.0,472.4 809.5,474.9 818.0,476.1 826.6,476.3 836.3,475.1 844.9,471.2"/>
<!-- frame -->
<line x1="925.2" y1="78" x2="925.2" y2="511.5" stroke="#999" stroke-width="1.5"/>
<line x1="0" y1="402" x2="925" y2="402" stroke="#a0a0a0" stroke-width="1.5"/>
<line x1="0" y1="511.2" x2="925.9" y2="511.2" stroke="#929292" stroke-width="1.5"/>
<g stroke="#999" stroke-width="1">
<line x1="925" y1="105.3" x2="930" y2="105.3"/><line x1="925" y1="190.5" x2="930" y2="190.5"/><line x1="925" y1="275.9" x2="930" y2="275.9"/><line x1="925" y1="361.2" x2="930" y2="361.2"/>
<line x1="925" y1="439.2" x2="930" y2="439.2"/>
<line x1="10.7" y1="511" x2="10.7" y2="516.5"/><line x1="113.6" y1="511" x2="113.6" y2="516"/><line x1="242.6" y1="511" x2="242.6" y2="516"/><line x1="349.5" y1="511" x2="349.5" y2="516"/><line x1="474" y1="511" x2="474" y2="516"/><line x1="577.7" y1="511" x2="577.7" y2="516"/><line x1="716.2" y1="511" x2="716.2" y2="516"/><line x1="818.6" y1="511" x2="818.6" y2="516"/>
</g>
<!-- price labels -->
<polygon points="926,186.7 933,178.5 984,178.5 984,195 933,195" fill="#ffd600"/>
<polygon points="926,279.4 933,271 984,271 984,288 933,288" fill="#1de9b6"/>
<polygon points="926,337.5 933,329.5 984,329.5 984,346 933,346" fill="#6a5ea6"/>
<polygon points="926,371.5 933,363 984,363 984,380 933,380" fill="#ffd600"/>
<path d="M926,471 L933,463 H969 Q972,463 972,466 V476.5 Q972,479.5 969,479.5 H933 Z" fill="#000"/>
</svg>

<div class="ax" style="left:931.5px;top:98.7px">1.125</div>
<div class="ax" style="left:931px;top:354.5px">1.05</div>
<div class="ax" style="left:931px;top:432.7px">70</div>
<div class="ax" style="left:941px;top:181px;color:#111">1.10096</div>
<div class="ax" style="left:941px;top:274px;color:#111">1.07395</div>
<div class="ax" style="left:941px;top:332px;color:#fff">1.05703</div>
<div class="ax" style="left:941px;top:366px;color:#111">1.04693</div>
<div class="ax" style="left:940.5px;top:465px;color:#fff">32.66</div>

<div class="xl" style="left:-19.3px">Aug</div>
<div class="xl" style="left:83.6px">14</div>
<div class="xl" style="left:212.6px">Sept</div>
<div class="xl" style="left:319.5px">14</div>
<div class="xl" style="left:444.0px">Oct</div>
<div class="xl" style="left:547.7px">14</div>
<div class="xl" style="left:686.2px">Nov</div>
<div class="xl" style="left:788.6px">14</div>

<div class="ind" style="left:4px;top:325px;width:121px;height:25px"></div>
<div class="ind" style="left:129px;top:325px;width:143px;height:25px"></div>
<div class="ind" style="left:4px;top:413px;width:76px;height:22px"></div>
<div class="it" style="left:7px;top:332px"><b>VWAP</b><span class="n"> 20 1 2 3</span></div>
<div class="it" style="left:133px;top:332px"><b>AUTO TREND</b><span class="n"> 3 3 4</span></div>
<div class="it" style="left:7.5px;top:419.5px"><b style="font-size:10.4px">RSI</b><span class="n" style="letter-spacing:0;margin-left:-1.5px"> 14</span></div>
<svg class="abs" style="left:0;top:0" width="300" height="450" viewBox="0 0 300 450">
<g transform="translate(95.7,338.4)"><g fill="#9a9a9a"><circle cx="0" cy="0" r="4.7"/><rect x="-1.5" y="-6.3" width="3" height="3" transform="rotate(0)"/><rect x="-1.5" y="-6.3" width="3" height="3" transform="rotate(45)"/><rect x="-1.5" y="-6.3" width="3" height="3" transform="rotate(90)"/><rect x="-1.5" y="-6.3" width="3" height="3" transform="rotate(135)"/><rect x="-1.5" y="-6.3" width="3" height="3" transform="rotate(180)"/><rect x="-1.5" y="-6.3" width="3" height="3" transform="rotate(225)"/><rect x="-1.5" y="-6.3" width="3" height="3" transform="rotate(270)"/><rect x="-1.5" y="-6.3" width="3" height="3" transform="rotate(315)"/></g><circle cx="0" cy="0" r="2" fill="#fff"/></g><g transform="translate(113.6,338.3)"><g stroke="#9a9a9a" stroke-width="2.6"><line x1="-4.3" y1="-4.3" x2="4.3" y2="4.3"/><line x1="4.3" y1="-4.3" x2="-4.3" y2="4.3"/></g></g>
<g transform="translate(244.4,338.1)"><g fill="#9a9a9a"><circle cx="0" cy="0" r="4.7"/><rect x="-1.5" y="-6.3" width="3" height="3" transform="rotate(0)"/><rect x="-1.5" y="-6.3" width="3" height="3" transform="rotate(45)"/><rect x="-1.5" y="-6.3" width="3" height="3" transform="rotate(90)"/><rect x="-1.5" y="-6.3" width="3" height="3" transform="rotate(135)"/><rect x="-1.5" y="-6.3" width="3" height="3" transform="rotate(180)"/><rect x="-1.5" y="-6.3" width="3" height="3" transform="rotate(225)"/><rect x="-1.5" y="-6.3" width="3" height="3" transform="rotate(270)"/><rect x="-1.5" y="-6.3" width="3" height="3" transform="rotate(315)"/></g><circle cx="0" cy="0" r="2" fill="#fff"/></g><g transform="translate(263,338.1)"><g stroke="#9a9a9a" stroke-width="2.6"><line x1="-4.3" y1="-4.3" x2="4.3" y2="4.3"/><line x1="4.3" y1="-4.3" x2="-4.3" y2="4.3"/></g></g>
<g transform="translate(52.4,425.3)"><g fill="#9a9a9a"><circle cx="0" cy="0" r="4.7"/><rect x="-1.5" y="-6.3" width="3" height="3" transform="rotate(0)"/><rect x="-1.5" y="-6.3" width="3" height="3" transform="rotate(45)"/><rect x="-1.5" y="-6.3" width="3" height="3" transform="rotate(90)"/><rect x="-1.5" y="-6.3" width="3" height="3" transform="rotate(135)"/><rect x="-1.5" y="-6.3" width="3" height="3" transform="rotate(180)"/><rect x="-1.5" y="-6.3" width="3" height="3" transform="rotate(225)"/><rect x="-1.5" y="-6.3" width="3" height="3" transform="rotate(270)"/><rect x="-1.5" y="-6.3" width="3" height="3" transform="rotate(315)"/></g><circle cx="0" cy="0" r="2" fill="#fff"/></g><g transform="translate(70.1,425.3)"><g stroke="#9a9a9a" stroke-width="2.6"><line x1="-4.3" y1="-4.3" x2="4.3" y2="4.3"/><line x1="4.3" y1="-4.3" x2="-4.3" y2="4.3"/></g></g>
</svg>
</body></html>
